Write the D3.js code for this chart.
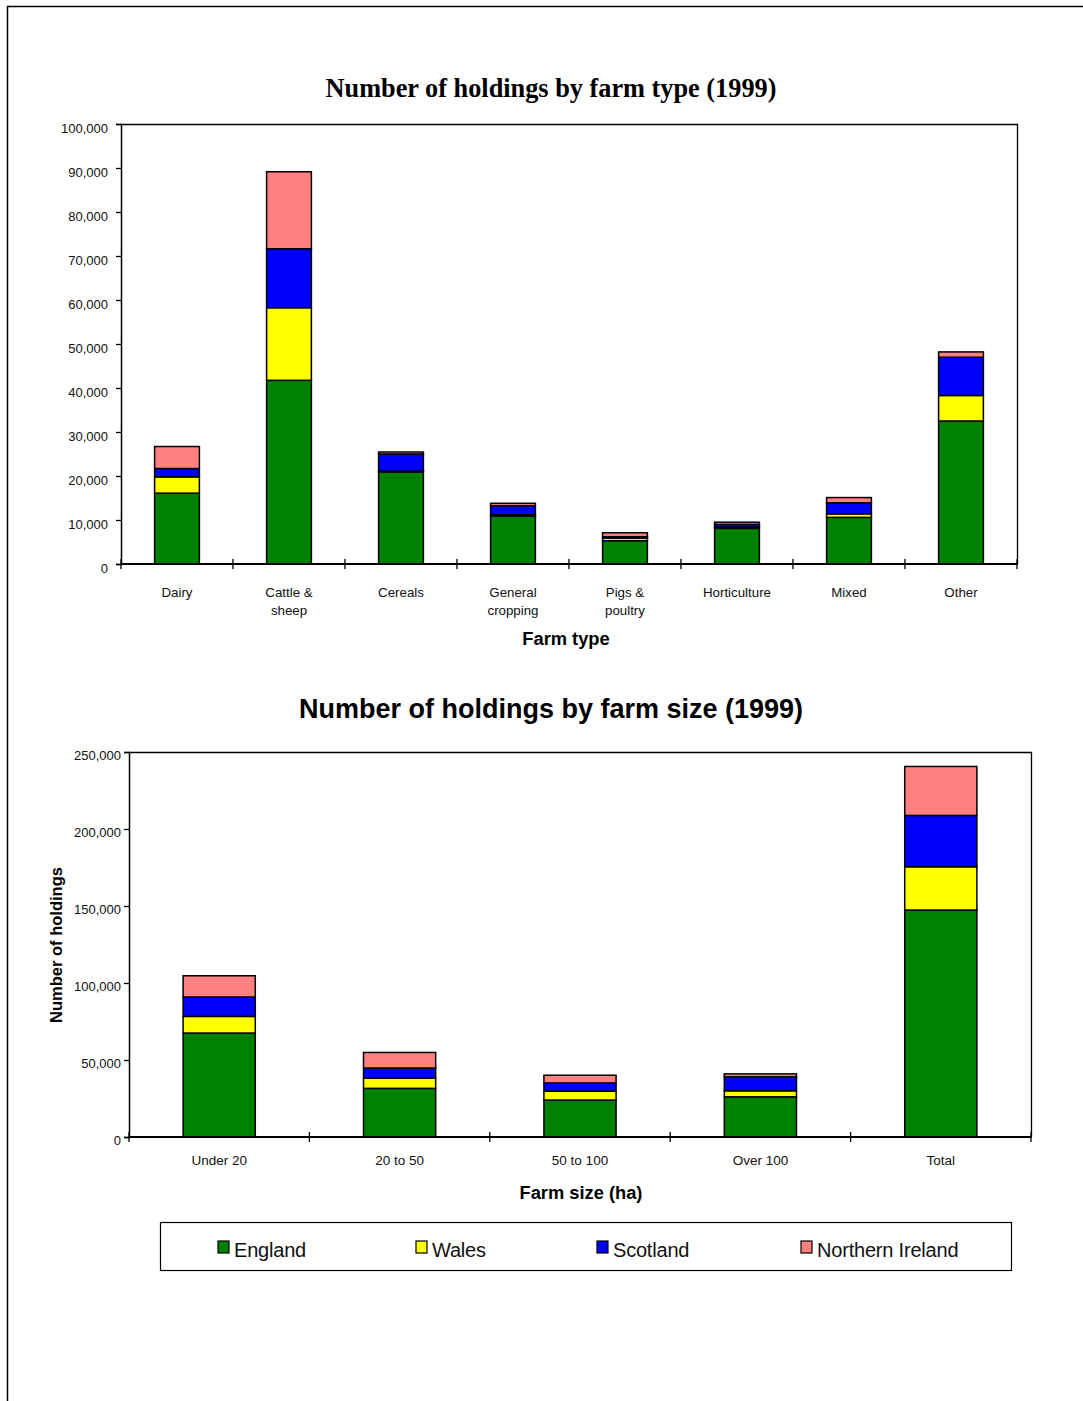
<!DOCTYPE html>
<html>
<head>
<meta charset="utf-8">
<script src="https://cdn.jsdelivr.net/npm/d3@7"></script>
<style>
  html, body { margin: 0; padding: 0; background: #fff; }
  svg { display: block; }
</style>
</head>
<body>
<svg id="page" width="1083" height="1401"></svg>
<script>
// Holdings by farm type, 1999 (stacked by country)
const typeCategories = ["Dairy", "Cattle & sheep", "Cereals", "General cropping", "Pigs & poultry", "Horticulture", "Mixed", "Other"];
const typeLabelLines = [["Dairy"], ["Cattle &", "sheep"], ["Cereals"], ["General", "cropping"], ["Pigs &", "poultry"], ["Horticulture"], ["Mixed"], ["Other"]];
const typeEngland  = [16100, 41750, 20900, 10900, 5300, 8100, 10600, 32500];
const typeWales    = [3700, 16500, 200, 300, 600, 300, 800, 5800];
const typeScotland = [1900, 13400, 3900, 2050, 300, 600, 2500, 8700];
const typeNIreland = [5000, 17500, 450, 550, 900, 500, 1200, 1200];
const typeTicks = [0, 10000, 20000, 30000, 40000, 50000, 60000, 70000, 80000, 90000, 100000];

// Holdings by farm size, 1999 (stacked by country)
const sizeCategories = ["Under 20", "20 to 50", "50 to 100", "Over 100", "Total"];
const sizeEngland  = [67500, 31600, 24000, 26100, 147400];
const sizeWales    = [10800, 6700, 5700, 3900, 28100];
const sizeScotland = [12600, 6500, 5400, 9100, 33300];
const sizeNIreland = [13800, 10100, 5000, 1900, 31800];
const sizeTicks = [0, 50000, 100000, 150000, 200000, 250000];

const seriesNames = ["England", "Wales", "Scotland", "Northern Ireland"];
const seriesColors = ["#008000", "#ffff00", "#0000ff", "#ff8080"];

const fmt = d3.format(",");
const sans = "Arial, 'Liberation Sans', sans-serif";
const svg = d3.select("#page");

// page frame
svg.append("path")
  .attr("d", "M7.5,1401 V6.5 H1083")
  .attr("fill", "none").attr("stroke", "#000").attr("stroke-width", 1.5);

function buildRows(cats, cols) {
  return cats.map((c, i) => {
    const row = { cat: c };
    seriesNames.forEach((s, k) => row[s] = cols[k][i]);
    return row;
  });
}

function drawChart(opt) {
  const { cats, cols, ticks, left, right, top, bottom, tickPad, tickFont, labelShift } = opt;
  const rows = buildRows(cats, cols);
  const stack = d3.stack().keys(seriesNames)(rows);
  const x = d3.scaleBand().domain(cats).range([left, right]).paddingInner(0.6).paddingOuter(0.3);
  const y = d3.scaleLinear().domain([0, ticks[ticks.length - 1]]).range([bottom, top]);
  const g = svg.append("g");

  // plot frame: top and right
  g.append("path")
    .attr("d", `M${left},${top + 0.5} H${right + 0.5} V${bottom}`)
    .attr("fill", "none").attr("stroke", "#000").attr("stroke-width", 1.3);

  // stacked bars
  stack.forEach((layer, k) => {
    g.append("g").selectAll("rect").data(layer).join("rect")
      .attr("x", d => x(d.data.cat))
      .attr("width", x.bandwidth())
      .attr("y", d => y(d[1]))
      .attr("height", d => y(d[0]) - y(d[1]))
      .attr("fill", seriesColors[k])
      .attr("stroke", "#000").attr("stroke-width", 1.5);
  });

  // y axis
  const yAxis = d3.axisLeft(y).tickValues(ticks).tickFormat(fmt).tickSize(5).tickPadding(tickPad);
  const ya = g.append("g").attr("transform", `translate(${left},0)`).call(yAxis);
  ya.select(".domain").attr("stroke", "#000").attr("stroke-width", 1.5);
  ya.selectAll(".tick line").attr("stroke", "#000").attr("stroke-width", 1.3);
  ya.selectAll(".tick text").attr("font-family", sans)
    .attr("font-size", tickFont).attr("fill", "#111")
    .attr("dy", `${0.32 + labelShift / tickFont}em`);

  // x axis line with ticks at band boundaries
  g.append("line").attr("x1", left).attr("x2", right + 0.5).attr("y1", bottom).attr("y2", bottom)
    .attr("stroke", "#000").attr("stroke-width", 1.8);
  const bounds = d3.range(cats.length + 1).map(i => left + i * (right - left) / cats.length);
  g.append("g").selectAll("line").data(bounds).join("line")
    .attr("x1", d => d).attr("x2", d => d)
    .attr("y1", bottom - 5).attr("y2", bottom + 5)
    .attr("stroke", "#000").attr("stroke-width", 1.3);

  return { x, y, g };
}

// ---------- farm type chart ----------
svg.append("text").attr("x", 551).attr("y", 97).attr("text-anchor", "middle")
  .attr("font-family", "'Liberation Serif', 'Times New Roman', serif")
  .attr("font-weight", "bold").attr("font-size", 26.3)
  .text("Number of holdings by farm type (1999)");

const top1 = drawChart({
  cats: typeCategories, cols: [typeEngland, typeWales, typeScotland, typeNIreland],
  ticks: typeTicks, left: 121, right: 1017, top: 124, bottom: 564, tickPad: 8, tickFont: 13, labelShift: 4.5
});
typeCategories.forEach((c, i) => {
  const cx = top1.x(c) + top1.x.bandwidth() / 2;
  const t = top1.g.append("text")
    .attr("x", cx).attr("y", 597)
    .attr("text-anchor", "middle")
    .attr("font-family", sans).attr("font-size", 13.3).attr("fill", "#111");
  typeLabelLines[i].forEach((line, j) => {
    t.append("tspan").attr("x", cx).attr("dy", j === 0 ? 0 : 18).text(line);
  });
});
svg.append("text").attr("x", 566).attr("y", 645).attr("text-anchor", "middle")
  .attr("font-family", sans).attr("font-weight", "bold").attr("font-size", 18.3)
  .text("Farm type");

// ---------- farm size chart ----------
svg.append("text").attr("x", 551).attr("y", 718).attr("text-anchor", "middle")
  .attr("font-family", sans)
  .attr("font-weight", "bold").attr("font-size", 27)
  .text("Number of holdings by farm size (1999)");

const bot = drawChart({
  cats: sizeCategories, cols: [sizeEngland, sizeWales, sizeScotland, sizeNIreland],
  ticks: sizeTicks, left: 129, right: 1031, top: 752, bottom: 1137, tickPad: 3, tickFont: 13, labelShift: 3
});
sizeCategories.forEach(c => {
  bot.g.append("text")
    .attr("x", bot.x(c) + bot.x.bandwidth() / 2).attr("y", 1165)
    .attr("text-anchor", "middle")
    .attr("font-family", sans).attr("font-size", 13.5).attr("fill", "#111")
    .text(c);
});
svg.append("text").attr("x", 581).attr("y", 1199).attr("text-anchor", "middle")
  .attr("font-family", sans).attr("font-weight", "bold").attr("font-size", 18.3)
  .text("Farm size (ha)");
svg.append("text")
  .attr("transform", "translate(62,945) rotate(-90)")
  .attr("text-anchor", "middle")
  .attr("font-family", sans).attr("font-weight", "bold").attr("font-size", 16.5)
  .text("Number of holdings");

// ---------- legend ----------
const legend = svg.append("g");
legend.append("rect").attr("x", 160.5).attr("y", 1222.5).attr("width", 851).attr("height", 48)
  .attr("fill", "#fff").attr("stroke", "#000").attr("stroke-width", 1.2);
const legendX = [218, 416, 597, 801];
seriesNames.forEach((s, k) => {
  legend.append("rect").attr("x", legendX[k]).attr("y", 1241).attr("width", 11).attr("height", 12)
    .attr("fill", seriesColors[k]).attr("stroke", "#000").attr("stroke-width", 1.2);
  legend.append("text").attr("x", legendX[k] + 16).attr("y", 1257)
    .attr("font-family", sans).attr("font-size", 20)
    .attr("letter-spacing", -0.2).attr("fill", "#111")
    .text(s);
});
</script>
</body>
</html>
